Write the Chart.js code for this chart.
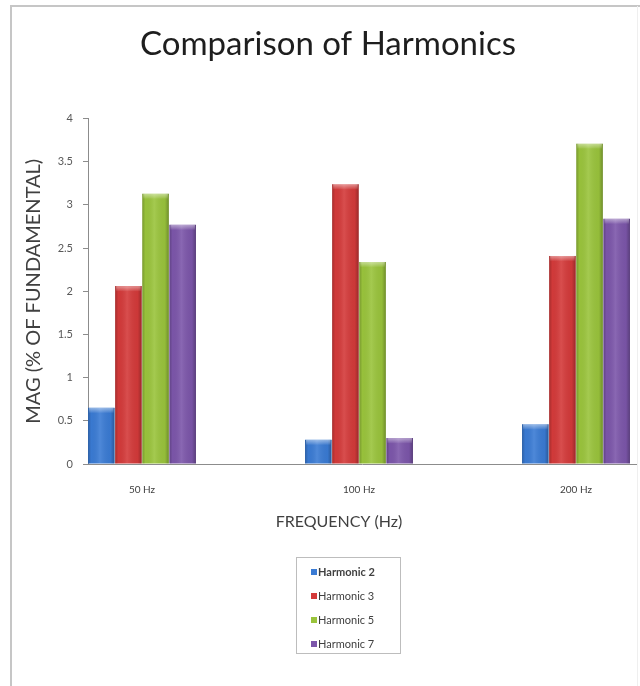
<!DOCTYPE html>
<html>
<head>
<meta charset="utf-8">
<title>Comparison of Harmonics</title>
<script src="https://cdn.jsdelivr.net/npm/chart.js@4.4.1/dist/chart.umd.min.js"></script>
<style>
  html, body { margin: 0; padding: 0; background: #ffffff; }
  canvas { display: block; }
</style>
</head>
<body>
<canvas id="chart" width="640" height="686"></canvas>
<script>
// Supply frequencies (category labels along the x axis)
const frequencies = ['50 Hz', '100 Hz', '200 Hz'];

// Harmonic magnitudes, % of fundamental, one value per frequency
const harmonicNames = ['Harmonic 2', 'Harmonic 3', 'Harmonic 5', 'Harmonic 7'];
const harmonic2 = [0.65, 0.28, 0.46];
const harmonic3 = [2.06, 3.24, 2.41];
const harmonic5 = [3.13, 2.34, 3.71];
const harmonic7 = [2.77, 0.30, 2.84];

// Value axis ticks
const magTicks = [0, 0.5, 1, 1.5, 2, 2.5, 3, 3.5, 4];

const seriesValues = [harmonic2, harmonic3, harmonic5, harmonic7];
const seriesColors = ['#3a7bd4', '#d43a3a', '#9ac43c', '#7c56aa'];
const FONT = "Lato, 'Open Sans', 'DejaVu Sans', sans-serif";

const datasets = harmonicNames.map((name, s) => ({
  label: name,
  data: seriesValues[s].map((v, i) => ({ x: i, y: v })),
  backgroundColor: seriesColors[s],
  borderWidth: 0,
  categoryPercentage: 0.5,
  barPercentage: 0.98
}));

// Outer chart frame
const framePlugin = {
  id: 'frame',
  beforeDraw(chart) {
    const ctx = chart.ctx;
    ctx.save();
    ctx.fillStyle = '#ffffff';
    ctx.fillRect(0, 0, chart.width, chart.height);
    ctx.strokeStyle = '#c6c6c6';
    ctx.lineWidth = 2;
    ctx.beginPath();
    ctx.moveTo(11, chart.height);
    ctx.lineTo(11, 6);
    ctx.lineTo(chart.width, 6);
    ctx.stroke();
    ctx.strokeStyle = '#efefef';
    ctx.lineWidth = 1;
    ctx.beginPath();
    ctx.moveTo(637.5, 6);
    ctx.lineTo(637.5, chart.height);
    ctx.stroke();
    ctx.restore();
  }
};

// Bevelled shading over each bar
const bevelPlugin = {
  id: 'bevel',
  afterDatasetsDraw(chart) {
    const ctx = chart.ctx;
    ctx.save();
    chart.data.datasets.forEach((ds, di) => {
      const meta = chart.getDatasetMeta(di);
      meta.data.forEach(bar => {
        const p = bar.getProps(['x', 'y', 'base', 'width'], true);
        const left = p.x - p.width / 2;
        const top = Math.min(p.y, p.base);
        const h = Math.abs(p.base - p.y);
        const g = ctx.createLinearGradient(left, 0, left + p.width, 0);
        g.addColorStop(0, 'rgba(0,0,0,0.22)');
        g.addColorStop(0.12, 'rgba(0,0,0,0.02)');
        g.addColorStop(0.45, 'rgba(255,255,255,0.10)');
        g.addColorStop(0.85, 'rgba(0,0,0,0.04)');
        g.addColorStop(1, 'rgba(0,0,0,0.28)');
        ctx.fillStyle = g;
        ctx.fillRect(left, top, p.width, h);
        const capH = Math.min(5, h);
        const cg = ctx.createLinearGradient(0, top, 0, top + capH);
        cg.addColorStop(0, 'rgba(255,255,255,0.45)');
        cg.addColorStop(1, 'rgba(255,255,255,0.05)');
        ctx.fillStyle = cg;
        ctx.fillRect(left + 1, top, p.width - 2, capH);
      });
    });
    ctx.restore();
  }
};

// Category axis title and boxed legend below the plot
const bottomPlugin = {
  id: 'bottomBlock',
  afterDraw(chart) {
    const ctx = chart.ctx;
    ctx.save();
    ctx.fillStyle = '#404040';
    ctx.font = '16px ' + FONT;
    ctx.textAlign = 'center';
    ctx.textBaseline = 'middle';
    ctx.fillText('FREQUENCY (Hz)', 339, 522);

    const bx = 296.5, by = 557.5, bw = 104, bh = 96;
    ctx.strokeStyle = '#bdbdbd';
    ctx.lineWidth = 1;
    ctx.strokeRect(bx, by, bw, bh);
    ctx.textAlign = 'left';
    chart.data.datasets.forEach((ds, i) => {
      const cy = 572 + i * 24;
      ctx.fillStyle = ds.backgroundColor;
      ctx.fillRect(311, cy - 3, 6, 6);
      ctx.fillStyle = '#404040';
      ctx.font = (i === 0 ? 'bold ' : '') + '11px ' + FONT;
      ctx.fillText(ds.label, 318, cy);
    });
    ctx.restore();
  }
};

new Chart(document.getElementById('chart'), {
  type: 'bar',
  data: { datasets },
  plugins: [framePlugin, bevelPlugin, bottomPlugin],
  options: {
    responsive: false,
    animation: false,
    layout: { padding: { left: 20, right: 4, top: 6, bottom: 152 } },
    plugins: {
      legend: { display: false },
      tooltip: { enabled: false },
      title: {
        display: true,
        text: 'Comparison of Harmonics',
        color: '#1e1e1e',
        font: { family: FONT, size: 33, weight: 'normal', lineHeight: 1.2 },
        padding: { top: 19, bottom: 54 }
      }
    },
    scales: {
      x: {
        type: 'linear',
        offset: false,
        min: -0.2488,
        max: 2.2765,
        afterBuildTicks(scale) {
          scale.ticks = frequencies.map((f, i) => ({ value: i }));
        },
        afterFit(scale) { scale.height = 70; },
        ticks: {
          callback: (v) => frequencies[v],
          color: '#404040',
          font: { family: FONT, size: 10 },
          padding: 20,
          maxRotation: 0,
          autoSkip: false
        },
        grid: { display: true, offset: false, drawOnChartArea: false, drawTicks: false, color: '#8c8c8c' },
        border: { display: true, color: '#8c8c8c', width: 1 }
      },
      y: {
        min: 0,
        max: 4,
        afterBuildTicks(scale) {
          scale.ticks = magTicks.map(v => ({ value: v }));
        },
        afterFit(scale) { scale.width = 68; },
        ticks: {
          callback: (v) => String(v),
          color: '#595959',
          font: { family: FONT, size: 11 },
          padding: 10
        },
        grid: { display: true, drawOnChartArea: false, drawTicks: true, tickLength: 5, color: '#8c8c8c' },
        border: { display: true, color: '#8c8c8c', width: 1 },
        title: {
          display: true,
          text: 'MAG (% OF FUNDAMENTAL)',
          color: '#404040',
          font: { family: FONT, size: 20, lineHeight: 1.2 },
          padding: { top: 2, bottom: 0 }
        }
      }
    }
  }
});
</script>
</body>
</html>
